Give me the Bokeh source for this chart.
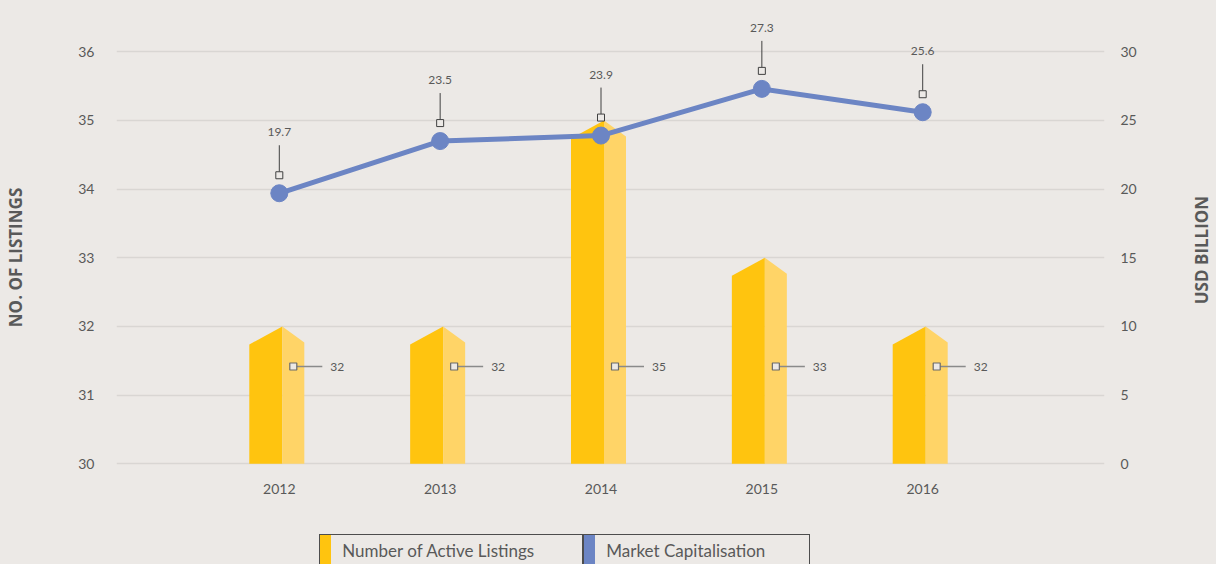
import numpy as np
from bokeh.plotting import figure
from bokeh.models import Range1d, LinearAxis, FixedTicker, Div
from bokeh.layouts import column, row
from bokeh.embed import file_html
from bokeh.resources import INLINE
from bokeh.core.properties import value

# ---------------- data ----------------
years = ["2012", "2013", "2014", "2015", "2016"]
listings = [32, 32, 35, 33, 32]
market_cap = [19.7, 23.5, 23.9, 27.3, 25.6]
left_ticks = [30, 31, 32, 33, 34, 35, 36]
right_ticks = [0, 5, 10, 15, 20, 25, 30]
left_title = "NO. OF LISTINGS"
right_title = "USD BILLION"
legend_labels = ["Number of Active Listings", "Market Capitalisation"]

# ---------------- style / layout ----------------
BG = "#ece9e6"
FONT = "Lato"
TITLE_FONT = "Open Sans"
TXT = "#595959"
GRID = "#d9d6d3"
DARK = "#ffc40f"
LIGHT = "#ffd467"
LINE = "#6c85c4"

TOTAL_W = 1216
W, H = 1180, 530
W2 = TOTAL_W - W            # strip holding the right-hand title
LEG_H = 564 - H
BL, BR, BB = 116, W - 1104, 16
FRAME_W = W - BL - BR
FRAME_H = H - BB            # frame spans canvas y 0 .. 514
BASE_PX = 463.3             # canvas y of the lowest gridline
TOP_PX = 51.3               # canvas y of the highest gridline
CAT_PX = 160.85             # pixel distance between categories
CAT0 = 278.8                # canvas x of first category

def px_x(canvas_x):
    return (canvas_x - CAT0) / CAT_PX

ly = (BASE_PX - TOP_PX) / (left_ticks[-1] - left_ticks[0])     # px per listing
ry = (BASE_PX - TOP_PX) / (right_ticks[-1] - right_ticks[0])   # px per USD bn

x_range = Range1d(px_x(BL), px_x(BL + FRAME_W))
left_range = Range1d(left_ticks[0] - (FRAME_H - BASE_PX) / ly, left_ticks[0] + BASE_PX / ly)
right_range = Range1d(right_ticks[0] - (FRAME_H - BASE_PX) / ry, right_ticks[0] + BASE_PX / ry)

p = figure(width=W, height=H, x_range=x_range, y_range=left_range,
           x_axis_location=None,
           output_backend="svg", toolbar_location=None,
           min_border_left=BL, min_border_right=BR, min_border_top=0, min_border_bottom=BB,
           background_fill_color=BG, border_fill_color=BG, outline_line_color=None)
p.extra_y_ranges = {"cap": right_range}

# y axes
la = p.yaxis[0]
la.ticker = FixedTicker(ticks=left_ticks)
la.axis_label = left_title
ra = LinearAxis(y_range_name="cap", ticker=FixedTicker(ticks=right_ticks))
p.add_layout(ra, "right")
for ax, standoff in ((la, 22), (ra, 16)):
    ax.axis_line_color = None
    ax.major_tick_line_color = None
    ax.minor_tick_line_color = None
    ax.major_tick_out = 0
    ax.major_label_text_font = FONT
    ax.major_label_text_font_size = "14px"
    ax.major_label_text_color = TXT
    ax.major_label_standoff = standoff
la.axis_label_text_font = TITLE_FONT
la.axis_label_text_font_size = "17px"
la.axis_label_text_font_style = "bold"
la.axis_label_text_color = TXT
la.axis_label_standoff = 48
p.xgrid.visible = False
p.ygrid.grid_line_color = GRID
p.ygrid.grid_line_width = 1.5

xs = list(range(len(years)))
base = left_ticks[0]

# category labels under the baseline
p.text(xs, [base - (488 - BASE_PX) / ly] * len(xs), text=years,
       text_font=value(FONT), text_font_size="14px", text_color=TXT,
       text_align="center", text_baseline="middle")

# bars (peaked columns, two tones)
bl = -30 / CAT_PX
bp = 3 / CAT_PX
br = 25 / CAT_PX
sl, sr = 18 / ly, 16 / ly
dark_xs = [[x + bl, x + bl, x + bp, x + bp] for x in xs]
dark_ys = [[base, v - sl, v, base] for v in listings]
light_xs = [[x + bp, x + bp, x + br, x + br] for x in xs]
light_ys = [[base, v, v - sr, base] for v in listings]
p.patches(dark_xs, dark_ys, fill_color=DARK, line_color=None)
p.patches(light_xs, light_ys, fill_color=LIGHT, line_color=None)

# bar labels
lab_y = base + (BASE_PX - 366) / ly
n = len(xs)
p.segment([x + 17 / CAT_PX for x in xs], [lab_y] * n, [x + 43 / CAT_PX for x in xs], [lab_y] * n,
          line_color="#8a8a8a", line_width=1.5)
p.scatter([x + 14 / CAT_PX for x in xs], [lab_y] * n, marker="square", size=7,
          fill_color=BG, line_color="#6a6a6a", line_width=1.2)
p.text([x + 51 / CAT_PX for x in xs], [lab_y] * n, text=[str(v) for v in listings],
       text_font=value(FONT), text_font_size="12px", text_color=TXT,
       text_align="left", text_baseline="middle")

# market cap line
p.line(xs, market_cap, y_range_name="cap", line_color=LINE, line_width=5)
p.scatter(xs, market_cap, y_range_name="cap", size=17, fill_color=LINE, line_color=LINE)

# line labels with leaders
p.segment(xs, [v + 21.5 / ry for v in market_cap], xs, [v + 48 / ry for v in market_cap],
          y_range_name="cap", line_color="#404040", line_width=1)
p.scatter(xs, [v + 18 / ry for v in market_cap], y_range_name="cap", marker="square", size=7,
          fill_color=BG, line_color="#404040", line_width=1)
p.text(xs, [v + 61 / ry for v in market_cap], text=[f"{v:.1f}" for v in market_cap],
       y_range_name="cap", text_font=value(FONT), text_font_size="12px", text_color=TXT,
       text_align="center", text_baseline="middle")

# right-hand axis title (reads bottom to top), in its own narrow strip
p2 = figure(width=W2, height=H, x_range=Range1d(0, W2), y_range=Range1d(H, 0),
            x_axis_location=None, y_axis_location=None,
            output_backend="svg", toolbar_location=None,
            min_border_left=0, min_border_right=0, min_border_top=0, min_border_bottom=0,
            background_fill_color=BG, border_fill_color=BG, outline_line_color=None)
p2.xgrid.visible = False
p2.ygrid.visible = False
p2.text([1200.5 - W], [(TOP_PX + BASE_PX) / 2], text=[right_title], angle=np.pi / 2,
        text_font=value(TITLE_FONT), text_font_size="17px", text_font_style="bold",
        text_color=TXT, text_align="center", text_baseline="middle")

# legend (boxes below the chart)
boxes = [(319.3, 264.0, DARK, legend_labels[0]), (583.3, 226.7, LINE, legend_labels[1])]
inner = ""
for left, width, col, lab in boxes:
    inner += (
        f'<div style="position:absolute;left:{left}px;top:4px;width:{width}px;height:{LEG_H}px;'
        f'box-sizing:border-box;border:1.5px solid #4d4d4d;border-bottom:none;">'
        f'<div style="position:absolute;left:0;top:0;bottom:0;width:11px;background:{col};"></div>'
        f'<span style="position:absolute;left:22px;top:6px;line-height:20px;font-size:17px;'
        f'font-family:{FONT};color:{TXT};white-space:nowrap;">{lab}</span></div>'
    )
legend_html = (f'<div style="position:relative;width:{TOTAL_W}px;height:{LEG_H}px;overflow:hidden;'
               f'background:{BG};">{inner}</div>')
leg = Div(text=legend_html, width=TOTAL_W, height=LEG_H, margin=(0, 0, 0, 0))

layout = column(row(p, p2, spacing=0), leg, spacing=0)

html = file_html(layout, INLINE)
i = html.rfind("<body")
html = html[:i] + f'<body style="background-color:{BG};"' + html[i + 5:]
open("out.html", "w").write(html)
